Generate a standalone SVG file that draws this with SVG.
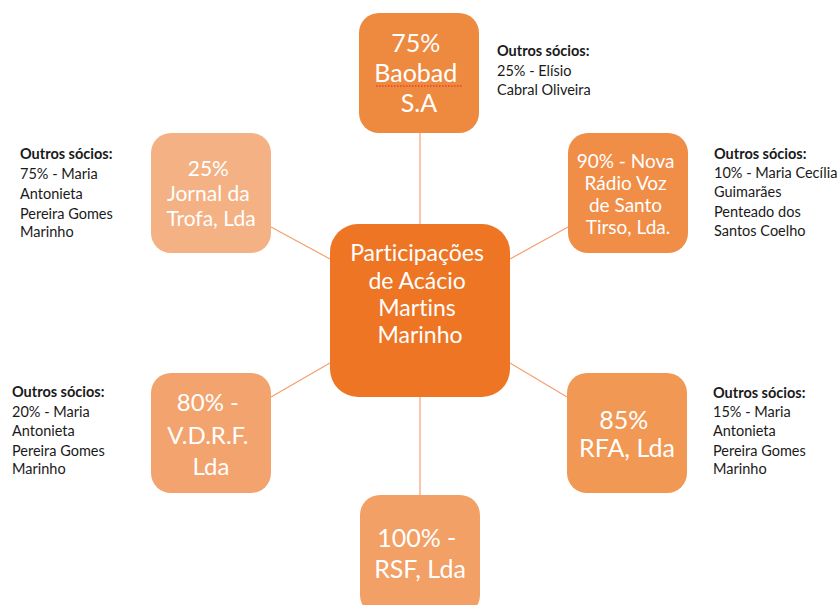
<svg xmlns="http://www.w3.org/2000/svg" width="840" height="605" viewBox="0 0 840 605">
  <style>
    text { font-variant-ligatures: none; }
    .node-text { font-family: Lato, "Liberation Sans", sans-serif; fill: #FFFFFF; text-anchor: middle; }
    .note { font-family: Lato, "Liberation Sans", sans-serif; font-size: 14.5px; fill: #1A1A1A; }
    .note .head { font-weight: bold; }
    .link { stroke: #F4A070; stroke-width: 1.2; fill: none; }
  </style>
  <rect width="840" height="605" fill="#FFFFFF"/>

  <!-- connectors from the centre to each holding -->
  <g id="connectors">
    <line class="link" x1="420" y1="133" x2="420" y2="224"/>
    <line class="link" x1="510" y1="259" x2="568" y2="227"/>
    <line class="link" x1="510" y1="363" x2="567" y2="397"/>
    <line class="link" x1="420" y1="397" x2="420" y2="495"/>
    <line class="link" x1="330" y1="363" x2="271" y2="397"/>
    <line class="link" x1="330" y1="259" x2="271" y2="227"/>
  </g>

  <!-- centre -->
  <g id="centre">
    <rect x="330" y="224" width="180" height="173" rx="28" fill="#ED7524"/>
    <text class="node-text" font-size="23">
      <tspan x="420" y="261">Participações</tspan>
      <tspan x="420" y="289">de Acácio</tspan>
      <tspan x="420" y="316">Martins</tspan>
      <tspan x="420" y="343">Marinho</tspan>
    </text>
  </g>

  <!-- top: Baobad -->
  <g id="baobad">
    <rect x="359" y="13" width="120" height="120" rx="20" fill="#EE8A3F"/>
    <text class="node-text" font-size="25">
      <tspan x="419" y="52">75%</tspan>
      <tspan x="419" y="82">Baobad</tspan>
      <tspan x="419" y="112">S.A</tspan>
    </text>
    <line x1="376" y1="86" x2="462" y2="86" stroke="#E0202A" stroke-width="1.2" stroke-dasharray="1.5 1.5"/>
  </g>
  <g id="baobad-note">
    <text class="note">
      <tspan class="head" x="497" y="56">Outros sócios:</tspan>
      <tspan x="497" y="76">25% - Elísio</tspan>
      <tspan x="497" y="95">Cabral Oliveira</tspan>
    </text>
  </g>

  <!-- upper right: Nova Rádio Voz de Santo Tirso -->
  <g id="radio-voz">
    <rect x="568" y="133" width="120" height="120" rx="20" fill="#F08D47"/>
    <text class="node-text" font-size="19">
      <tspan x="628" y="168">90% - Nova</tspan>
      <tspan x="628" y="190">Rádio Voz</tspan>
      <tspan x="628" y="212">de Santo</tspan>
      <tspan x="628" y="234">Tirso, Lda.</tspan>
    </text>
  </g>
  <g id="radio-voz-note">
    <text class="note">
      <tspan class="head" x="714" y="159">Outros sócios:</tspan>
      <tspan x="714" y="178">10% - Maria Cecília</tspan>
      <tspan x="714" y="197">Guimarães</tspan>
      <tspan x="714" y="217">Penteado dos</tspan>
      <tspan x="714" y="236">Santos Coelho</tspan>
    </text>
  </g>

  <!-- lower right: RFA -->
  <g id="rfa">
    <rect x="567" y="373" width="120" height="120" rx="20" fill="#F29855"/>
    <text class="node-text" font-size="25">
      <tspan x="627" y="429">85%</tspan>
      <tspan x="627" y="457">RFA, Lda</tspan>
    </text>
  </g>
  <g id="rfa-note">
    <text class="note">
      <tspan class="head" x="713" y="398">Outros sócios:</tspan>
      <tspan x="713" y="417">15% - Maria</tspan>
      <tspan x="713" y="436">Antonieta</tspan>
      <tspan x="713" y="456">Pereira Gomes</tspan>
      <tspan x="713" y="474">Marinho</tspan>
    </text>
  </g>

  <!-- bottom: RSF -->
  <g id="rsf">
    <rect x="360" y="495" width="120" height="120" rx="20" fill="#F3A067"/>
    <text class="node-text" font-size="25">
      <tspan x="420" y="547">100% -</tspan>
      <tspan x="420" y="578">RSF, Lda</tspan>
    </text>
  </g>

  <!-- lower left: V.D.R.F. -->
  <g id="vdrf">
    <rect x="151" y="373" width="120" height="120" rx="20" fill="#F3A36E"/>
    <text class="node-text" font-size="24">
      <tspan x="211" y="411">80% -</tspan>
      <tspan x="211" y="444">V.D.R.F.</tspan>
      <tspan x="211" y="475">Lda</tspan>
    </text>
  </g>
  <g id="vdrf-note">
    <text class="note">
      <tspan class="head" x="12" y="397">Outros sócios:</tspan>
      <tspan x="12" y="417">20% - Maria</tspan>
      <tspan x="12" y="436">Antonieta</tspan>
      <tspan x="12" y="456">Pereira Gomes</tspan>
      <tspan x="12" y="474">Marinho</tspan>
    </text>
  </g>

  <!-- upper left: Jornal da Trofa -->
  <g id="jornal-trofa">
    <rect x="151" y="133" width="120" height="120" rx="20" fill="#F4B184"/>
    <text class="node-text" font-size="21">
      <tspan x="211" y="176">25%</tspan>
      <tspan x="211" y="201">Jornal da</tspan>
      <tspan x="211" y="226">Trofa, Lda</tspan>
    </text>
  </g>
  <g id="jornal-trofa-note">
    <text class="note">
      <tspan class="head" x="20" y="159">Outros sócios:</tspan>
      <tspan x="20" y="179">75% - Maria</tspan>
      <tspan x="20" y="199">Antonieta</tspan>
      <tspan x="20" y="219">Pereira Gomes</tspan>
      <tspan x="20" y="237">Marinho</tspan>
    </text>
  </g>
</svg>
